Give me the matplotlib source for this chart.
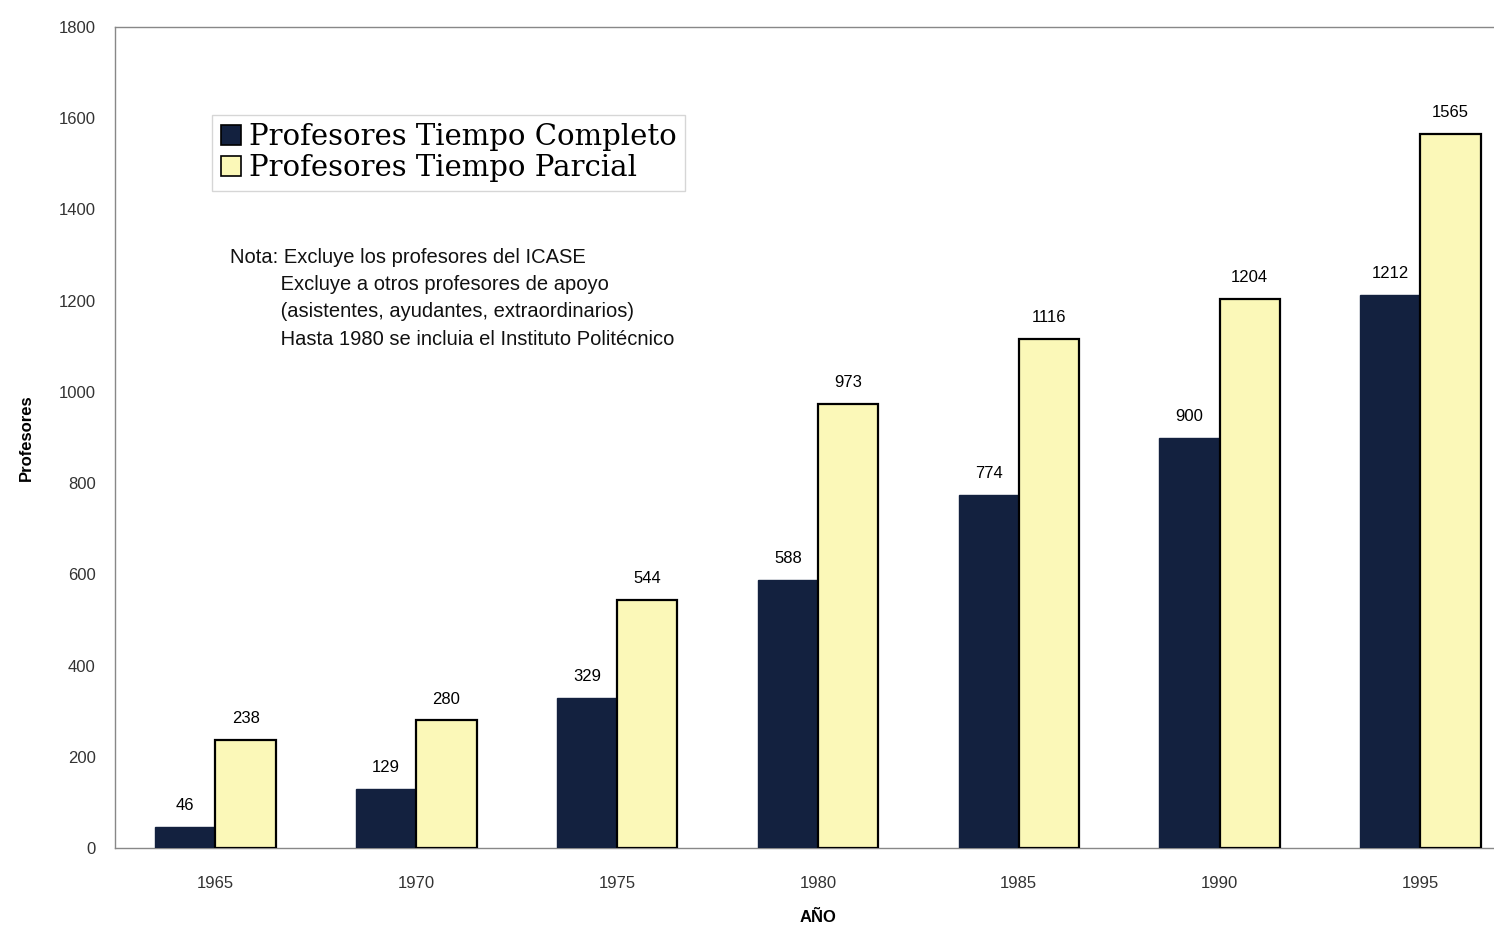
import matplotlib.pyplot as plt
import numpy as np

plt.rcParams['font.family'] = ['Liberation Sans', 'DejaVu Sans']

years = ['1965', '1970', '1975', '1980', '1985', '1990', '1995']
tiempo_completo = [46, 129, 329, 588, 774, 900, 1212]
tiempo_parcial = [238, 280, 544, 973, 1116, 1204, 1565]
yticks = [0, 200, 400, 600, 800, 1000, 1200, 1400, 1600, 1800]

NAVY = '#13213f'
CREAM = '#fbf8b8'

fig = plt.figure(figsize=(14.94, 9.26), dpi=100)
ax = fig.add_axes([0.077, 0.084, 0.941, 0.887])

x = np.arange(len(years))
width = 0.3

b1 = ax.bar(x - width / 2, tiempo_completo, width=width, color=NAVY,
            edgecolor=NAVY, linewidth=1, label='Profesores Tiempo Completo', zorder=3)
b2 = ax.bar(x + width / 2, tiempo_parcial, width=width, color=CREAM,
            edgecolor='black', linewidth=1.6, label='Profesores Tiempo Parcial', zorder=3)

for rect, v in zip(b1, tiempo_completo):
    ax.annotate(str(v), (rect.get_x() + rect.get_width() / 2, v),
                xytext=(0, 10), textcoords='offset points',
                ha='center', va='bottom', fontsize=12)
for rect, v in zip(b2, tiempo_parcial):
    ax.annotate(str(v), (rect.get_x() + rect.get_width() / 2, v),
                xytext=(0, 10), textcoords='offset points',
                ha='center', va='bottom', fontsize=12)

ax.set_xlim(-0.5, 6.5)
ax.set_ylim(0, 1800)
ax.set_xticks(x)
ax.set_xticklabels(years)
ax.set_yticks(yticks)
ax.tick_params(axis='both', length=0, labelsize=12, colors='#333333')
ax.tick_params(axis='x', pad=20)
ax.tick_params(axis='y', pad=14)

for side in ['top', 'left', 'bottom']:
    ax.spines[side].set_color('#888888')
    ax.spines[side].set_linewidth(1.0)
ax.spines['right'].set_visible(False)

ax.set_ylabel('Profesores', fontsize=12, fontweight='bold', labelpad=18)
ax.set_xlabel('AÑO', fontsize=12, fontweight='bold', labelpad=14)

leg = ax.legend(loc='upper left', bbox_to_anchor=(0.069, 0.893), frameon=True,
                fancybox=False, edgecolor='#cccccc', borderpad=0.3,
                handlelength=0.7, handleheight=0.7, handletextpad=0.25,
                labelspacing=0.1, borderaxespad=0,
                prop={'family': 'DejaVu Serif', 'size': 21})
for h in leg.legend_handles:
    h.set_edgecolor('black')
    h.set_linewidth(1.2)

nota = ('Nota: Excluye los profesores del ICASE\n'
        '         Excluye a otros profesores de apoyo\n'
        '         (asistentes, ayudantes, extraordinarios)\n'
        '         Hasta 1980 se incluia el Instituto Politécnico')
ax.text(0.082, 0.731, nota, transform=ax.transAxes, ha='left', va='top',
        fontsize=14.5, linespacing=1.55, color='#111111')

fig.savefig('out.png', dpi=100)
